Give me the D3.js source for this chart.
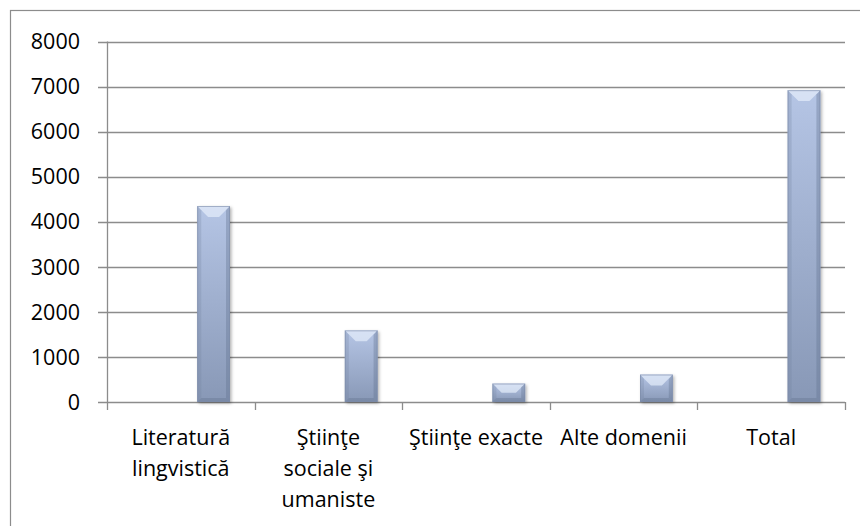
<!DOCTYPE html>
<html>
<head>
<meta charset="utf-8">
<script src="https://cdn.jsdelivr.net/npm/d3@7"></script>
<style>
  body { margin: 0; background: #fff; }
  text { font-family: "Open Sans", "Noto Sans", sans-serif; fill: #000; }
</style>
</head>
<body>
<svg id="canvas" width="860" height="526"></svg>
<script>
// data
const categories = ["Literatură lingvistică", "Ştiinţe sociale şi umaniste", "Ştiinţe exacte", "Alte domenii", "Total"];
const values = [4350, 1590, 410, 610, 6920];
const yTicks = [0, 1000, 2000, 3000, 4000, 5000, 6000, 7000, 8000];
// how the category labels wrap under the axis
const labelLines = [["Literatură", "lingvistică"], ["Ştiinţe", "sociale şi", "umaniste"], ["Ştiinţe exacte"], ["Alte domenii"], ["Total"]];
// the chart reserves three bar slots per category, only the last one is filled
const slots = ["s1", "s2", "s3"];

const svg = d3.select("#canvas");
const margin = { left: 107, right: 845, top: 41.5, bottom: 402 };
const fontSize = 21.5;

// outer chart frame (right/bottom edges fall outside the picture)
svg.append("rect")
  .attr("x", 10.5).attr("y", 10.5)
  .attr("width", 900).attr("height", 600)
  .attr("fill", "none").attr("stroke", "#8c8c8c").attr("stroke-width", 1.2);

const x0 = d3.scaleBand().domain(categories).range([margin.left, margin.right]).paddingInner(0).paddingOuter(0);
const x1 = d3.scaleBand().domain(slots).range([0, x0.bandwidth()]).paddingInner(0).paddingOuter(0.75);
const y = d3.scaleLinear().domain([0, 8000]).range([margin.bottom, margin.top]);

// gridlines with outward ticks
const g = svg.append("g");
g.selectAll("line.grid")
  .data(yTicks)
  .enter()
  .append("line")
  .attr("class", "grid")
  .attr("x1", margin.left - 9)
  .attr("x2", margin.right)
  .attr("y1", (d) => Math.round(y(d)) + 0.5)
  .attr("y2", (d) => Math.round(y(d)) + 0.5)
  .attr("stroke", "#8c8c8c")
  .attr("stroke-width", 1.3);

g.selectAll("text.ylab")
  .data(yTicks)
  .enter()
  .append("text")
  .attr("class", "ylab")
  .attr("x", 80)
  .attr("y", (d) => y(d))
  .attr("dy", "0.36em")
  .attr("text-anchor", "end")
  .attr("font-size", fontSize)
  .text((d) => d);

// vertical axis line
g.append("line")
  .attr("x1", margin.left + 0.5).attr("x2", margin.left + 0.5)
  .attr("y1", y(8000)).attr("y2", y(0))
  .attr("stroke", "#8c8c8c").attr("stroke-width", 1.3);

// category ticks
const tickXs = categories.map((c) => x0(c)).concat([margin.right]);
g.selectAll("line.xtick")
  .data(tickXs)
  .enter()
  .append("line")
  .attr("class", "xtick")
  .attr("x1", (d) => Math.round(d) + 0.5)
  .attr("x2", (d) => Math.round(d) + 0.5)
  .attr("y1", y(0))
  .attr("y2", y(0) + 8)
  .attr("stroke", "#8c8c8c")
  .attr("stroke-width", 1.3);

// bar gradients
const defs = svg.append("defs");
const grad = defs.append("linearGradient").attr("id", "barGrad").attr("x1", 0).attr("y1", 0).attr("x2", 0).attr("y2", 1);
grad.append("stop").attr("offset", "0%").attr("stop-color", "#b5c5e5");
grad.append("stop").attr("offset", "100%").attr("stop-color", "#8898b6");
const shadow = defs.append("filter").attr("id", "shadow").attr("x", "-30%").attr("y", "-10%").attr("width", "160%").attr("height", "130%");
shadow.append("feDropShadow").attr("dx", 1.5).attr("dy", 1.5).attr("stdDeviation", 1.5).attr("flood-color", "#000").attr("flood-opacity", 0.3);

const bars = g.selectAll("g.bar")
  .data(categories.map((c, i) => ({ cat: c, value: values[i] })))
  .enter()
  .append("g")
  .attr("class", "bar");

bars.each(function (d) {
  const bx = x0(d.cat) + x1("s3");
  const bw = x1.bandwidth();
  const top = y(d.value);
  const h = y(0) - top;
  const b = Math.min(11, h / 2, bw / 3); // bevel size
  const sel = d3.select(this);
  sel.append("rect")
    .attr("x", bx).attr("y", top)
    .attr("width", bw).attr("height", h)
    .attr("fill", "url(#barGrad)")
    .attr("filter", "url(#shadow)");
  const pts = (arr) => arr.map((p) => p.join(",")).join(" ");
  // top bevel
  sel.append("polygon")
    .attr("points", pts([[bx, top], [bx + bw, top], [bx + bw - b, top + b], [bx + b, top + b]]))
    .attr("fill", "#e6eefb").attr("opacity", 0.7);
  // left bevel
  sel.append("polygon")
    .attr("points", pts([[bx, top], [bx + 4, top + b * 0.4], [bx + 4, top + h - 4], [bx, top + h]]))
    .attr("fill", "#6f7f9c").attr("opacity", 0.25);
  // right bevel
  sel.append("polygon")
    .attr("points", pts([[bx + bw, top], [bx + bw - 4, top + b * 0.4], [bx + bw - 4, top + h - 4], [bx + bw, top + h]]))
    .attr("fill", "#5f6f8c").attr("opacity", 0.35);
  // bottom bevel
  sel.append("polygon")
    .attr("points", pts([[bx, top + h], [bx + 4, top + h - 4], [bx + bw - 4, top + h - 4], [bx + bw, top + h]]))
    .attr("fill", "#5a6a86").attr("opacity", 0.3);
  sel.append("rect")
    .attr("x", bx + 0.5).attr("y", top + 0.5)
    .attr("width", bw - 1).attr("height", h - 1)
    .attr("fill", "none").attr("stroke", "#7b8aa6").attr("stroke-width", 1).attr("opacity", 0.6);
});

// category labels
const labels = g.selectAll("text.xlab")
  .data(categories)
  .enter()
  .append("text")
  .attr("class", "xlab")
  .attr("text-anchor", "middle")
  .attr("font-size", fontSize)
  .attr("x", (d) => x0(d) + x0.bandwidth() / 2)
  .attr("y", 445);

labels.each(function (d, i) {
  d3.select(this)
    .selectAll("tspan")
    .data(labelLines[i])
    .enter()
    .append("tspan")
    .attr("x", x0(d) + x0.bandwidth() / 2)
    .attr("dy", (l, j) => (j === 0 ? 0 : 31))
    .text((l) => l);
});
</script>
</body>
</html>
